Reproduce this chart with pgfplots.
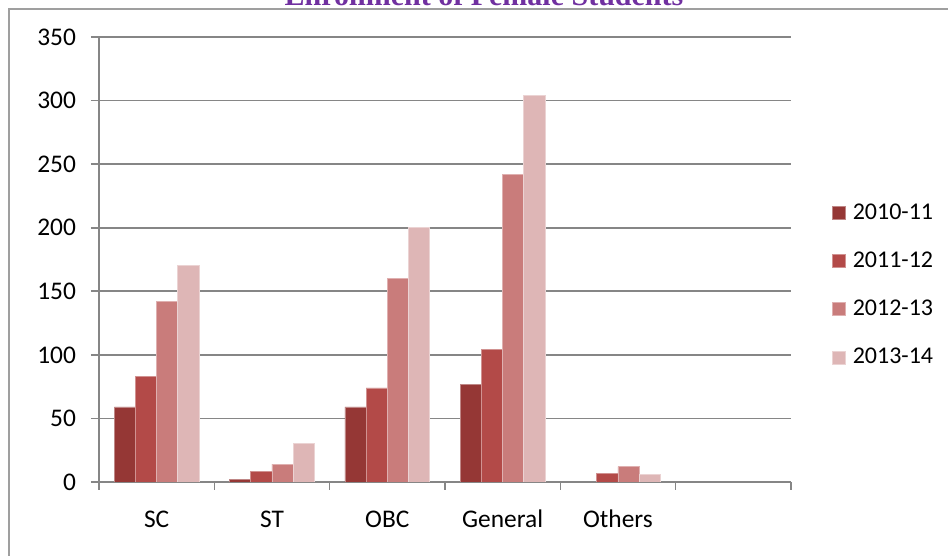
\documentclass[border=0pt]{standalone}
\usepackage{pgfplots}
\pgfplotsset{compat=1.18}
\usepackage{fontspec}
\setmainfont{Carlito}
\newfontfamily\titlefont{Liberation Serif}
\definecolor{c1}{RGB}{149,55,53}
\definecolor{c2}{RGB}{179,74,72}
\definecolor{c3}{RGB}{201,124,123}
\definecolor{c4}{RGB}{222,182,182}
\definecolor{gridc}{RGB}{134,134,134}
\definecolor{titlec}{RGB}{112,48,160}
\begin{document}
\begin{tikzpicture}
\begin{axis}[
  at={(49.5pt,37pt)}, anchor=south west,
  scale only axis, width=346pt, height=222.5pt,
  ybar=0pt, bar width=10.6pt,
  xmin=-0.5, xmax=5.5, ymin=0, ymax=350,
  ytick={0,50,...,350},
  xtick={-0.5,0.5,...,5.5}, xticklabels={},
  extra x ticks={0,1,2,3,4},
  extra x tick labels={SC,ST,OBC,General,Others},
  extra x tick style={major tick length=0pt, tick style={draw=none}},
  axis x line*=bottom, axis y line*=left,
  axis line style={draw=gridc, line width=0.8pt},
  ymajorgrids, grid style={draw=gridc, line width=0.8pt},
  tick align=outside, major tick length=4pt,
  tick style={draw=gridc, line width=0.8pt},
  ticklabel style={font=\fontsize{12.7}{15}\selectfont},
  xticklabel style={anchor=base, yshift=-23pt},
  yticklabel style={xshift=-4pt},
  /pgf/number format/assume math mode=true,
  legend image code/.code={\fill[#1] (0pt,-3.25pt) rectangle (6.5pt,3.25pt);},
  legend style={at={(1.05,0.442)}, anchor=west, draw=none, fill=none,
    font=\fontsize{12}{14}\selectfont, row sep=11.8pt, legend cell align=left,
    nodes={inner sep=1.5pt}},
  legend entries={\hspace{2pt}2010-11,\hspace{2pt}2011-12,\hspace{2pt}2012-13,\hspace{2pt}2013-14},
]
\addplot[fill=c1, draw=c1!60!white, line width=0.4pt] coordinates {(0,59) (1,2) (2,59) (3,77)};
\addplot[fill=c2, draw=c2!60!white, line width=0.4pt] coordinates {(0,83) (1,8) (2,74) (3,104) (4,7)};
\addplot[fill=c3, draw=c3!60!white, line width=0.4pt] coordinates {(0,142) (1,14) (2,160) (3,242) (4,12)};
\addplot[fill=c4, draw=c4!60!white, line width=0.4pt] coordinates {(0,170) (1,30) (2,200) (3,304) (4,6)};
\end{axis}
\draw[gray!75, line width=1pt] (4.5pt,-10pt) -- (4.5pt,273.5pt) -- (490pt,273.5pt);
\node[anchor=base, font=\titlefont\bfseries\fontsize{15}{18}\selectfont, text=titlec, inner sep=0pt] at (242pt,275pt) {Enrollment of Female Students};
\pgfresetboundingbox
\useasboundingbox (0,0) rectangle (474pt,278pt);
\end{tikzpicture}
\end{document}
